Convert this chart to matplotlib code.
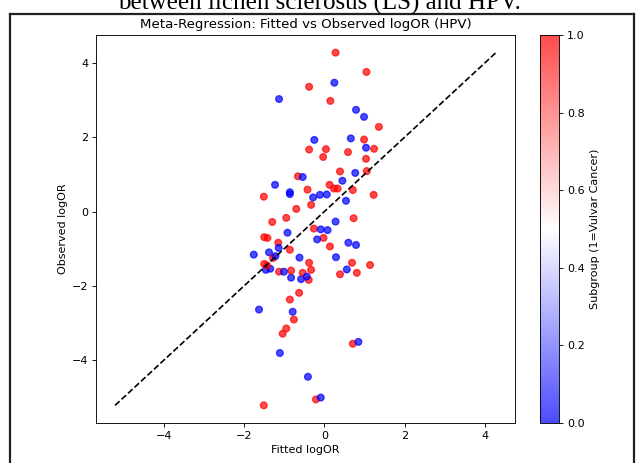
import numpy as np
import matplotlib.pyplot as plt
from matplotlib.lines import Line2D

# fitted vs observed logOR per study, subgroup 1 = vulvar cancer, 0 = other
fitted_red = [0.28, 1.05, -0.38, 0.15, 1.36, 0.99, -0.38, 0.04, -0.03, 0.59,
              1.24, 1.04, 0.39, 1.06, -0.66, 0.13, 0.24, 0.33, -0.42, 0.71,
              1.23, -1.51, -0.33, -0.70, -0.95, 0.73, -1.30, -0.26, -0.02, -1.50,
              -1.42, -1.15, 0.14, -0.86, -1.28, -1.50, -1.43, -0.38, 0.69, 1.14,
              -1.13, -0.83, -0.54, -0.33, 0.39, 0.81, -0.39, -0.63, -0.86, -0.76,
              -0.95, -1.04, 0.71, -0.21, -1.51]
observed_red = [4.28, 3.76, 3.36, 2.98, 2.28, 1.94, 1.67, 1.68, 1.47, 1.60,
                1.69, 1.42, 1.08, 1.09, 0.95, 0.72, 0.62, 0.62, 0.59, 0.58,
                0.45, 0.40, 0.18, 0.07, -0.17, -0.18, -0.28, -0.46, -0.71, -0.69,
                -0.71, -0.84, -0.94, -1.03, -1.25, -1.41, -1.45, -1.38, -1.38, -1.44,
                -1.62, -1.59, -1.65, -1.57, -1.69, -1.65, -1.84, -2.19, -2.37, -2.91,
                -3.15, -3.29, -3.56, -5.06, -5.22]

fitted_blue = [0.25, -1.13, 0.79, 0.99, -0.25, 0.66, 1.04, 0.77, -0.54, 0.45,
               -1.23, -0.86, -0.86, -0.28, -0.11, 0.06, 0.54, 0.28, -0.92, -0.09,
               0.08, -0.18, 0.60, 0.79, -1.14, -1.76, -1.38, -1.22, -0.62, 0.29,
               -1.46, -1.35, -1.01, -0.83, -0.58, -0.44, 0.56, -1.63, -0.79, -1.11,
               0.85, -0.41, -0.09]
observed_blue = [3.47, 3.03, 2.74, 2.55, 1.93, 1.97, 1.72, 1.04, 0.93, 0.83,
                 0.72, 0.52, 0.47, 0.38, 0.45, 0.46, 0.29, -0.27, -0.57, -0.48,
                 -0.50, -0.75, -0.84, -0.90, -0.98, -1.16, -1.10, -1.20, -1.24, -1.23,
                 -1.57, -1.54, -1.62, -1.78, -1.82, -1.75, -1.56, -2.64, -2.70, -3.81,
                 -3.51, -4.45, -5.01]

fitted = np.array(fitted_red + fitted_blue)
observed = np.array(observed_red + observed_blue)
subgroup = np.array([1] * len(fitted_red) + [0] * len(fitted_blue))

# shuffle draw order a bit so colours overlap like the original
order = np.argsort((np.arange(len(fitted)) * 37) % len(fitted))
fitted, observed, subgroup = fitted[order], observed[order], subgroup[order]

fig = plt.figure(figsize=(6.38, 4.63), dpi=100)
ax = fig.add_axes([0.1505, 0.0864, 0.6567, 0.838])
cax = fig.add_axes([0.8464, 0.0864, 0.0303, 0.838])

sc = ax.scatter(fitted, observed, c=subgroup, cmap='bwr', alpha=0.7, s=23)
mn = min(fitted.min(), observed.min())
mx = max(fitted.max(), observed.max())
ax.plot([mn, mx], [mn, mx], 'k--', lw=1.2)

ax.set_xlabel('Fitted logOR', fontsize=8, labelpad=3)
ax.set_ylabel('Observed logOR', fontsize=8, labelpad=3)
ax.set_title('Meta-Regression: Fitted vs Observed logOR (HPV)', fontsize=9.6, pad=4.8)
ax.tick_params(labelsize=8, length=2.8, width=0.64, pad=2.8)
for s in ax.spines.values():
    s.set_linewidth(0.64)

cb = fig.colorbar(sc, cax=cax)
cb.set_label('Subgroup (1=Vulvar Cancer)', fontsize=8)
cb.ax.tick_params(labelsize=8, length=2.8, width=0.64, pad=2.8)
cb.outline.set_linewidth(0.64)

# document frame and cut-off caption from the screenshot
W, H = 638, 463
frame = dict(color='#222222', lw=1.6, transform=fig.transFigure)
fig.add_artist(Line2D([10 / W, 10 / W], [0, 1 - 14 / H], **frame))
fig.add_artist(Line2D([10 / W, 634 / W], [1 - 14 / H, 1 - 14 / H], **frame))
fig.add_artist(Line2D([634 / W, 634 / W], [0, 1 - 14 / H], **frame))
fig.text(0.5, 1 - 10 / H, 'between lichen sclerosus (LS) and HPV.',
         ha='center', va='baseline', fontsize=18, family='Liberation Serif')

fig.savefig('out.png', dpi=100)
